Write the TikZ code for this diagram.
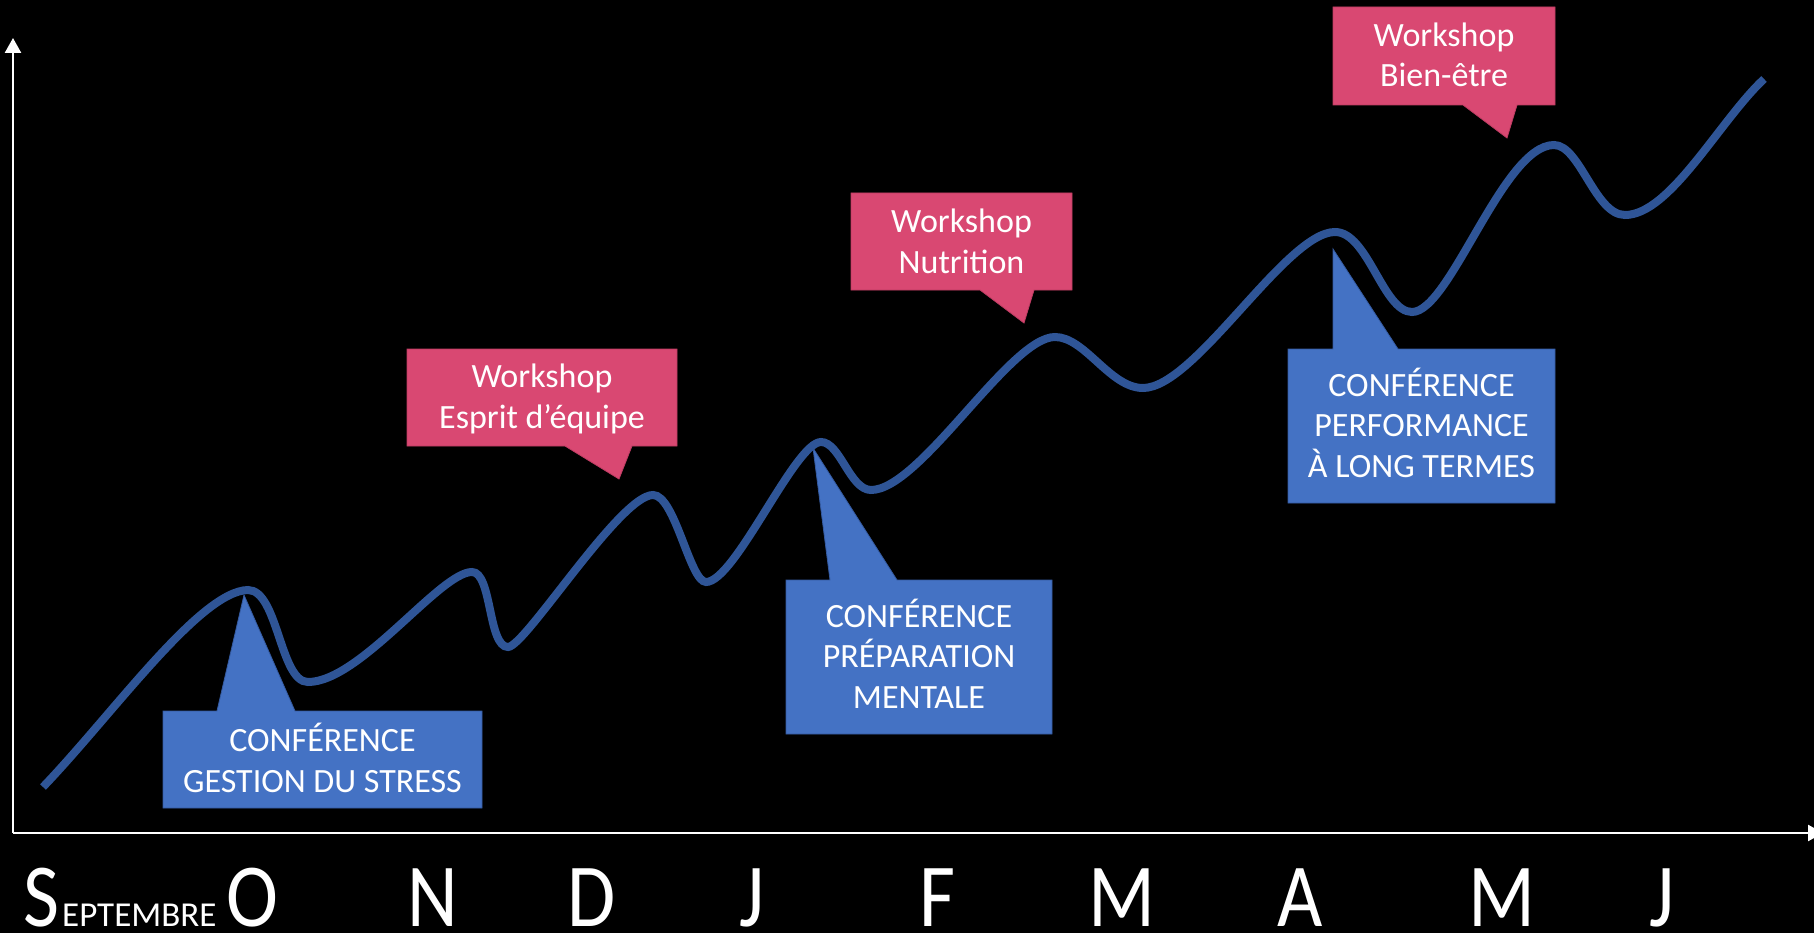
\documentclass[tikz,border=0pt]{standalone}
\usepackage{fontspec}
\setmainfont{Carlito}
\newfontfamily\monthfont[FakeStretch=0.87]{Carlito}
\usetikzlibrary{arrows.meta}
\definecolor{curveblue}{RGB}{47,85,151}
\definecolor{boxblue}{RGB}{68,114,196}
\definecolor{boxblueline}{RGB}{52,90,160}
\definecolor{boxpink}{RGB}{217,72,114}
\definecolor{boxpinkline}{RGB}{190,60,98}
\begin{document}
\begin{tikzpicture}[x=1pt,y=-1pt,
  axisline/.style={white, line width=2.5pt, -{Triangle[width=16pt,length=15pt]}},
  trend/.style={curveblue, line width=8pt},
  confbox/.style={fill=boxblue, draw=boxblueline, line width=0.8pt},
  wsbox/.style={fill=boxpink, draw=boxpinkline, line width=0.8pt},
  lbl/.style={text=white, align=center, inner sep=0pt, font=\fontsize{34}{40.5}\selectfont, anchor=base},
  month/.style={text=white, inner sep=0pt, font=\monthfont\fontsize{90}{90}\selectfont, anchor=base}]
\fill[black] (0,0) rectangle (1814,933);
\useasboundingbox (0,0) rectangle (1814,933);

% axes
\coordinate (origin) at (13,833);
\coordinate (ytop) at (13,38);
\coordinate (xend) at (1823,833);
\draw[axisline] (origin) -- (ytop);
\draw[axisline] (origin) -- (xend);

% callout tips
\coordinate (tipc1) at (244,595);
\coordinate (tipc2) at (813,448);
\coordinate (tipc3) at (1333,249);
\coordinate (tipw1) at (619,479);
\coordinate (tipw2) at (1024,323);
\coordinate (tipw3) at (1507,138);

% conference callouts
\draw[confbox] (163,711) -- (217,711) -- (tipc1) -- (295,711) -- (482,711) -- (482,808) -- (163,808) -- cycle;
\draw[confbox] (786,580) -- (830,580) -- (tipc2) -- (897,580) -- (1052,580) -- (1052,734) -- (786,734) -- cycle;
\draw[confbox] (1288,349) -- (1333,349) -- (tipc3) -- (1398,349) -- (1555,349) -- (1555,503) -- (1288,503) -- cycle;

% workshop callouts
\draw[wsbox] (407,349) -- (677,349) -- (677,446) -- (632,446) -- (tipw1) -- (565,446) -- (407,446) -- cycle;
\draw[wsbox] (851,193) -- (1072,193) -- (1072,290) -- (1034,290) -- (tipw2) -- (980,290) -- (851,290) -- cycle;
\draw[wsbox] (1333,7) -- (1555,7) -- (1555,105) -- (1517,105) -- (tipw3) -- (1463,105) -- (1333,105) -- cycle;

% trend curve
\draw[trend] (43,787) .. controls (113,714) and (200,591) .. (248,590)
 .. controls (278,590) and (280,682) .. (308,682)
 .. controls (360,682) and (440,572) .. (472,572)
 .. controls (492,572) and (488,647) .. (508,647)
 .. controls (525,647) and (620,495) .. (653,495)
 .. controls (675,495) and (690,582) .. (706,582)
 .. controls (735,582) and (795,442) .. (821,442)
 .. controls (840,442) and (850,490) .. (871,490)
 .. controls (920,490) and (1010,337) .. (1055,337)
 .. controls (1085,337) and (1110,388) .. (1143,388)
 .. controls (1195,388) and (1286,232) .. (1335,232)
 .. controls (1368,232) and (1383,312) .. (1412,312)
 .. controls (1450,312) and (1503,145) .. (1554,145)
 .. controls (1580,145) and (1595,215) .. (1625,215)
 .. controls (1670,215) and (1720,120) .. (1764,79);

% labels (anchored at the baseline of the last line)
\node[lbl] (c1) at (322.5,792) {CONFÉRENCE\\GESTION DU STRESS};
\node[lbl] (c2) at (919,708) {CONFÉRENCE\\PRÉPARATION\\MENTALE};
\node[lbl] (c3) at (1421.5,477) {CONFÉRENCE\\PERFORMANCE\\À LONG TERMES};
\node[lbl] (w1) at (542,428) {Workshop\\Esprit d’équipe};
\node[lbl] (w2) at (961.5,273) {Workshop\\Nutrition};
\node[lbl] (w3) at (1444,87) {Workshop\\Bien-être};

% months
\node[month, anchor=base west] (mS) at (23,926) {S\kern3pt{\rmfamily\fontsize{35}{35}\selectfont EPTEMBRE}};
\node[month] (mO) at (252,926) {O};
\node[month] (mN) at (433,926) {N};
\node[month] (mD) at (592,926) {D};
\node[month] (mJ) at (752,926) {J};
\node[month] (mF) at (937,926) {F};
\node[month] (mM) at (1122,926) {M};
\node[month] (mA) at (1300,926) {A};
\node[month] (mMa) at (1502,926) {M};
\node[month] (mJu) at (1662,926) {J};
\end{tikzpicture}
\end{document}
